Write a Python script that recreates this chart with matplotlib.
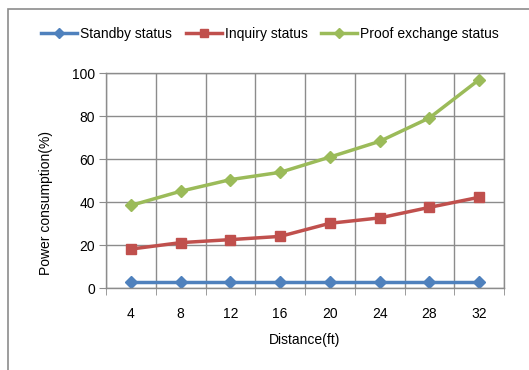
import matplotlib
matplotlib.use("Agg")
import matplotlib.pyplot as plt
from matplotlib.patches import Rectangle
import numpy as np

distances = ["4", "8", "12", "16", "20", "24", "28", "32"]
standby = [2.6, 2.6, 2.6, 2.6, 2.6, 2.6, 2.6, 2.6]
inquiry = [18.1, 21.1, 22.5, 24.0, 30.1, 32.6, 37.5, 42.2]
proof = [38.4, 45.0, 50.4, 53.8, 60.9, 68.2, 79.1, 96.9]
y_ticks = [0, 20, 40, 60, 80, 100]

plt.rcParams["font.family"] = ["Liberation Sans", "DejaVu Sans"]

W, H = 529, 370
fig = plt.figure(figsize=(W / 100, H / 100), dpi=100)

# outer chart frame
fig.patches.append(Rectangle((8 / W, -0.1), 1.2, 1 - 9 / H + 0.1,
                             transform=fig.transFigure, fill=False,
                             edgecolor="#8c8c8c", linewidth=1.2))

left, right, top, bottom = 106, 504, 73, 288
ax = fig.add_axes([left / W, 1 - bottom / H, (right - left) / W, (bottom - top) / H])

x = np.arange(len(distances))
ax.plot(x, standby, color="#4F81BD", marker="D", markersize=6.5, linewidth=2.5,
        label="Standby status")
ax.plot(x, inquiry, color="#C0504D", marker="s", markersize=6.5, linewidth=2.5,
        label="Inquiry status")
ax.plot(x, proof, color="#9BBB59", marker="D", markersize=6.5, linewidth=2.5,
        label="Proof exchange status")

ax.set_xlim(-0.5, len(distances) - 0.5)
ax.set_ylim(0, 100)
ax.set_yticks(y_ticks)
ax.set_xticks(x)
ax.set_xticklabels(distances)
ax.set_xticks(np.arange(-0.5, len(distances)), minor=True)
ax.tick_params(axis="x", which="major", length=0, pad=14, labelsize=10, colors="#000000")
ax.tick_params(axis="x", which="minor", length=5, color="#8c8c8c", direction="out")
ax.tick_params(axis="y", length=5, color="#8c8c8c", direction="out", labelsize=10, pad=3)
ax.grid(True, which="minor", axis="x", color="#8c8c8c", linewidth=1)
ax.grid(True, which="major", axis="y", color="#8c8c8c", linewidth=1)
ax.set_axisbelow(True)
for s in ax.spines.values():
    s.set_color("#8c8c8c")
    s.set_linewidth(1)

ax.set_ylabel("Power consumption(%)", fontsize=10)
ax.yaxis.set_label_coords(-0.133, 0.395)
ax.set_xlabel("Distance(ft)", fontsize=10, labelpad=8)

fig.legend(loc="center", bbox_to_anchor=(270 / W, 1 - 34 / H), ncol=3,
           frameon=False, fontsize=10, handlelength=2.6, columnspacing=1.0,
           handletextpad=0.2, markerscale=0.8)

fig.savefig("out.png", dpi=100)
